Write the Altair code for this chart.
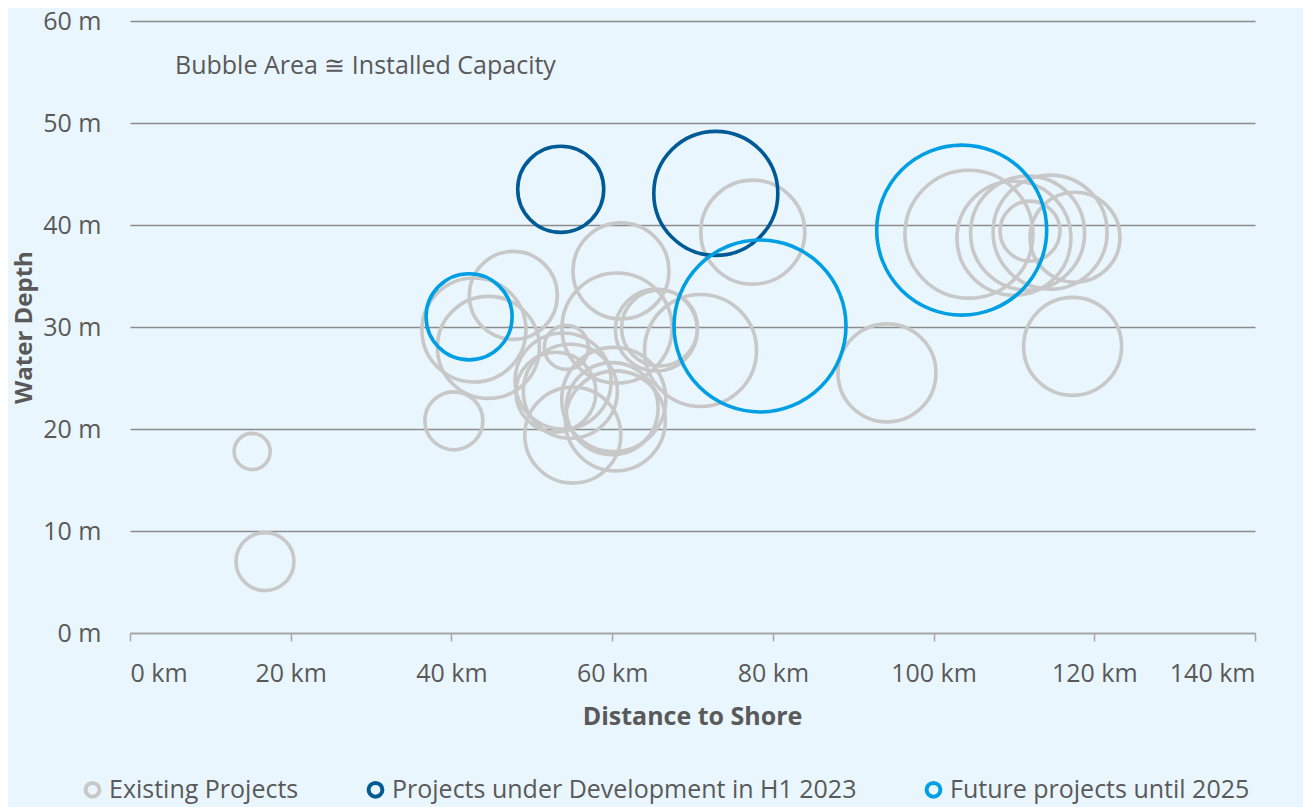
import altair as alt
import pandas as pd

# Existing projects: distance to shore (km), water depth (m), installed capacity (MW)
existing_km = [15.2, 16.8, 40.3, 42.8, 44.6, 47.7, 54.3, 61.1, 60.6, 53.9, 54.8, 53.0,
               55.1, 60.2, 60.4, 60.0, 65.5, 65.9, 71.0, 77.5, 94.2, 117.3, 104.4,
               110.0, 111.7, 114.5, 112.0, 117.6]
existing_m = [17.8, 7.0, 20.8, 29.7, 28.0, 33.1, 28.0, 35.5, 29.9, 24.7, 23.7, 23.6,
              19.4, 22.9, 20.8, 22.0, 29.7, 29.9, 27.7, 39.3, 25.5, 28.1, 39.1,
              38.7, 39.2, 39.3, 39.4, 38.8]
existing_mw = [65, 168, 168, 541, 520, 387, 97, 461, 605, 461, 442, 320,
               461, 541, 500, 423, 336, 289, 627, 541, 480, 480, 819,
               650, 650, 650, 180, 405]

# Projects under development in H1 2023
dev_km = [53.6, 72.9]
dev_m = [43.5, 43.1]
dev_mw = [370, 769]

# Future projects until 2025
fut_km = [42.2, 78.4, 103.5]
fut_m = [31.0, 30.1, 39.5]
fut_mw = [370, 1479, 1445]

categories = ["Existing Projects", "Projects under Development in H1 2023",
              "Future projects until 2025"]
colors = ["#C8C8C8", "#005A96", "#009FE3"]

x_ticks = [0, 20, 40, 60, 80, 100, 120, 140]
y_ticks = [0, 10, 20, 30, 40, 50, 60]

note_text = ["Bubble Area \u2245 Installed Capacity"]
note_km = [5.6]
note_m = [55.6]

rows = []
for grp, (kms, ms, mws) in enumerate([(existing_km, existing_m, existing_mw),
                                      (dev_km, dev_m, dev_mw),
                                      (fut_km, fut_m, fut_mw)]):
    for k, m, w in zip(kms, ms, mws):
        rows.append({"distance": k, "depth": m, "capacity": w,
                     "status": categories[grp], "ord": grp})
df = pd.DataFrame(rows)
note_df = pd.DataFrame({"text": note_text, "distance": note_km, "depth": note_m})

FONT = "Open Sans"
TXT = "#595959"
FS = 25
PH = 612

x_enc = alt.X("distance:Q",
              scale=alt.Scale(domain=[0, 140], nice=False),
              axis=alt.Axis(values=x_ticks, title="Distance to Shore",
                            labelExpr="datum.value + ' km'",
                            grid=False, domainColor="#A6A6A6", domainWidth=1.5,
                            tickColor="#A6A6A6", tickWidth=1.5, tickSize=8,
                            labelBaseline="middle", labelPadding=32,
                            labelFontSize=FS, labelColor=TXT, labelFont=FONT,
                            titleFontSize=FS, titleFontWeight="bold", titleColor=TXT,
                            titleFont=FONT, titleX=562, titleY=83,
                            titleBaseline="middle", titleAlign="center"))
y_enc = alt.Y("depth:Q",
              scale=alt.Scale(domain=[0, 60], nice=False),
              axis=alt.Axis(values=y_ticks, title="Water Depth",
                            labelExpr="datum.value + ' m'",
                            grid=True, gridColor="#8C8C8C", gridWidth=1.5,
                            domain=False, ticks=False, tickSize=0, labelPadding=29,
                            labelFontSize=FS, labelColor=TXT, labelFont=FONT,
                            titleFontSize=FS - 1, titleFontWeight="bold", titleColor=TXT,
                            titleFont=FONT, titleAngle=270, titleX=-106, titleY=PH / 2,
                            titleBaseline="middle", titleAlign="center"))

bubbles = alt.Chart(df).mark_point(shape="circle", filled=False, strokeWidth=3.6,
                                   opacity=1).encode(
    x=x_enc,
    y=y_enc,
    size=alt.Size("capacity:Q", scale=alt.Scale(domain=[0, 1500], range=[0, 30000]),
                  legend=None),
    stroke=alt.Stroke("status:N",
                      scale=alt.Scale(domain=categories, range=colors),
                      legend=alt.Legend(title=None, orient="none", direction="horizontal",
                                        legendX=-50, legendY=756,
                                        symbolType="circle", symbolSize=190,
                                        symbolStrokeWidth=4,
                                        symbolFillColor="transparent",
                                        labelFontSize=FS, labelColor=TXT, labelFont=FONT,
                                        labelLimit=0, labelOffset=4, columnPadding=61)),
    order=alt.Order("ord:Q"),
)

note = alt.Chart(note_df).mark_text(align="left", baseline="middle", fontSize=FS,
                                    font=FONT, color=TXT).encode(
    x=alt.X("distance:Q"), y=alt.Y("depth:Q"), text="text:N")

chart = alt.layer(bubbles, note).properties(
    width=1125, height=PH,
    autosize=alt.AutoSizeParams(type="none"),
    padding={"left": 122, "top": 13, "right": 48, "bottom": 174},
    background="#EAF6FD",
).configure_view(stroke=None)

chart.save("out.html", embed_options={"renderer": "svg", "actions": False})
